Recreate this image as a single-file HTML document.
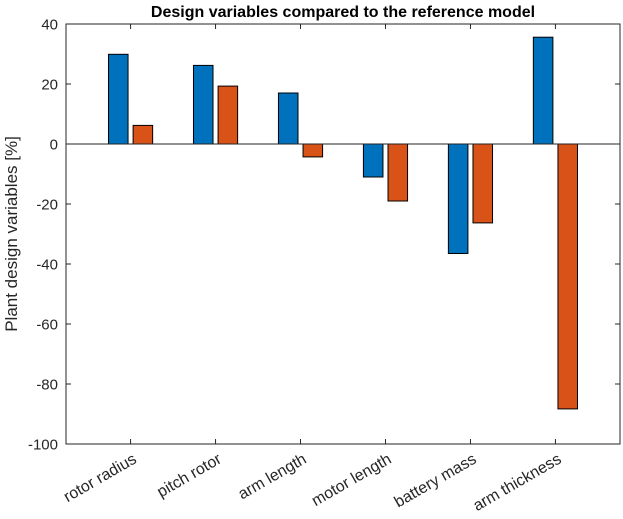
<!DOCTYPE html>
<html><head><meta charset="utf-8"><style>
body{margin:0;background:#fff;}
svg{display:block;font-family:"Liberation Sans",Arial,sans-serif;}
</style></head><body>
<svg id="chart" width="623" height="519" xmlns="http://www.w3.org/2000/svg">
<rect width="623" height="519" fill="#fff"/>
<text x="343" y="17" text-anchor="middle" font-size="16" font-weight="bold" fill="#000">Design variables compared to the reference model</text>
<text transform="translate(17,234) rotate(-90)" text-anchor="middle" font-size="17" fill="#262626">Plant design variables [%]</text>
<g id="plot"></g>
</svg>
<script>
const categories = ["rotor radius","pitch rotor","arm length","motor length","battery mass","arm thickness"];
const seriesA = [29.9, 26.2, 17.0, -11.0, -36.5, 35.6];
const seriesB = [6.2, 19.3, -4.3, -19.0, -26.3, -88.3];
const yTicks = [40, 20, 0, -20, -40, -60, -80, -100];

const L=66, R=620, T=24, B=444, yMin=-100, yMax=40;
const xMin=0.24, xMax=6.76;
const ns="http://www.w3.org/2000/svg";
const g=document.getElementById('plot');
function x(v){return L+(v-xMin)/(xMax-xMin)*(R-L);}
function y(v){return T+(yMax-v)/(yMax-yMin)*(B-T);}
function mk(tag,attrs){const e=document.createElementNS(ns,tag);for(const k in attrs)e.setAttribute(k,attrs[k]);g.appendChild(e);return e;}

const box=mk('rect',{x:L,y:T,width:R-L,height:B-T,fill:'none',stroke:'#262626','stroke-width':1});



yTicks.forEach(t=>{
  const yy=y(t);
  const tl=mk('line',{x1:L,x2:L+5,y1:yy,y2:yy,stroke:'#262626'});
  
  
  const tr=mk('line',{x1:R-5,x2:R,y1:yy,y2:yy,stroke:'#262626'});
  
  
  const lb=mk('text',{x:L-8,y:yy+5.5,'text-anchor':'end','font-size':15,fill:'#262626'});
  lb.textContent=t;
  
  
});

const bw=(x(1.23)-x(1));
categories.forEach((c,i)=>{
  const cx=x(i+1);
  const a=seriesA[i], b=seriesB[i];
  const ra=mk('rect',{x:cx-12.3-bw/2,y:Math.min(y(a),y(0)),width:bw,height:Math.abs(y(a)-y(0)),fill:'#0072BD',stroke:'#000','stroke-width':1});
  
  
  const rb=mk('rect',{x:cx+12.3-bw/2,y:Math.min(y(b),y(0)),width:bw,height:Math.abs(y(b)-y(0)),fill:'#D95319',stroke:'#000','stroke-width':1});
  
  
  const tb=mk('line',{x1:cx,x2:cx,y1:B,y2:B-5,stroke:'#262626'});
  
  
  const tt=mk('line',{x1:cx,x2:cx,y1:T,y2:T+5,stroke:'#262626'});
  
  
  const lb=mk('text',{transform:`translate(${cx+7},${B+18}) rotate(-30)`,'text-anchor':'end','font-size':16,fill:'#262626'});
  lb.textContent=c;
  
  
});
const zl=mk('line',{x1:L,x2:R,y1:y(0),y2:y(0),stroke:'#262626','stroke-width':1});


</script>
</body></html>
